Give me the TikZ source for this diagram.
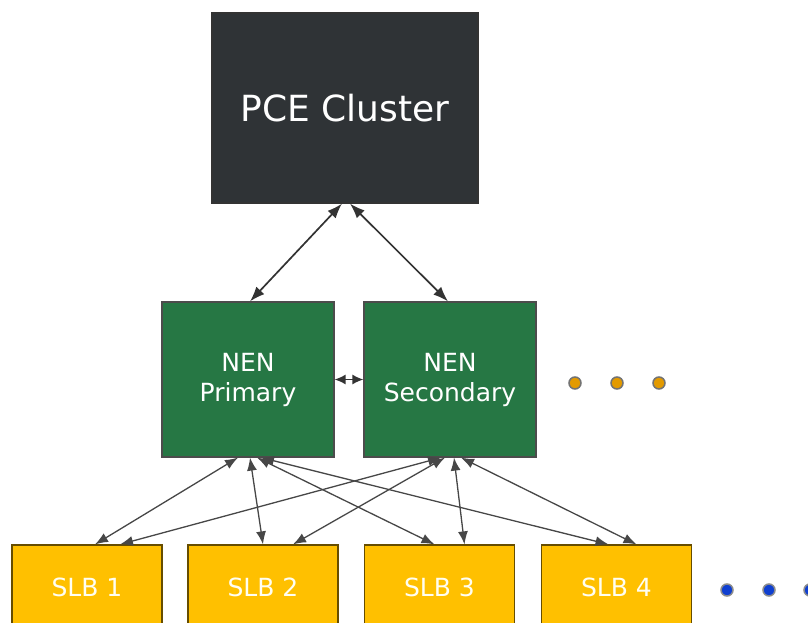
\documentclass[tikz,border=0pt]{standalone}
\usepackage{fontspec}
\setmainfont{DejaVu Sans}
\usetikzlibrary{arrows.meta}
\definecolor{pcefill}{HTML}{2F3336}
\definecolor{nenfill}{HTML}{267744}
\definecolor{slbfill}{HTML}{FFC000}
\definecolor{linec}{HTML}{333333}
\definecolor{orangedot}{HTML}{E39A00}
\definecolor{bluedot}{HTML}{0F3FD0}
\tikzset{
  box/.style={draw=#1, line width=1.2pt, inner sep=0pt, align=center, text=white},
  pcebox/.style={box=black!80, fill=pcefill, minimum width=266pt, minimum height=190pt, font=\fontsize{36}{42}\selectfont},
  nenbox/.style={box=black!70, fill=nenfill, minimum width=172pt, minimum height=155pt, font=\fontsize{25}{30}\selectfont},
  slbbox/.style={box=black!60!slbfill, fill=slbfill, minimum width=150pt, minimum height=84pt, font=\fontsize{25}{30}\selectfont, text=white!95!yellow},
  conn/.style={draw=linec, line width=1.7pt, {Latex[length=15pt,width=11pt]}-{Latex[length=15pt,width=11pt]}},
  lconn/.style={draw=linec!90, line width=1.3pt, {Latex[length=13pt,width=10pt]}-{Latex[length=13pt,width=10pt]}},
  dotorange/.style={circle, fill=orangedot, draw=black!55, line width=1.5pt, inner sep=0pt, minimum size=12pt},
  dotblue/.style={circle, fill=bluedot, draw=black!45, line width=1.5pt, inner sep=0pt, minimum size=12pt},
}
\begin{document}
\begin{tikzpicture}[x=1pt,y=-1pt]
\useasboundingbox (0,0) rectangle (808,623);
\node[pcebox] (pce) at (345,108) {PCE Cluster};
\node[nenbox] (prim) at (248,379.5) {\rule{0pt}{6pt}NEN\\Primary};
\node[nenbox] (sec) at (450,379.5) {\rule{0pt}{6pt}NEN\\Secondary};
\node[slbbox] (s1) at (87,587) {SLB 1};
\node[slbbox] (s2) at (263,587) {SLB 2};
\node[slbbox] (s3) at (439.5,587) {SLB 3};
\node[slbbox] (s4) at (616.5,587) {SLB 4};
% top connectors
\draw[conn] ([xshift=-3pt]pce.south) -- ([xshift=2pt]prim.north);
\draw[conn] ([xshift=5pt]pce.south) -- ([xshift=-2pt]sec.north);
\draw[conn, line width=1.4pt, {Latex[length=11pt,width=10pt]}-{Latex[length=11pt,width=10pt]}] (prim.east) -- (sec.west);
% lower connectors
\draw[lconn] ([xshift=-10pt]prim.south) -- ([xshift=8pt]s1.north);
\draw[lconn] ([xshift=2pt]prim.south) -- ([xshift=0pt]s2.north);
\draw[lconn] ([xshift=9pt]prim.south) -- ([xshift=-5pt]s3.north);
\draw[lconn] ([xshift=13pt]prim.south) -- ([xshift=-8pt]s4.north);
\draw[lconn] ([xshift=-9pt]sec.south) -- ([xshift=33pt]s1.north);
\draw[lconn] ([xshift=-5pt]sec.south) -- ([xshift=30pt]s2.north);
\draw[lconn] ([xshift=4pt]sec.south) -- ([xshift=25pt]s3.north);
\draw[lconn] ([xshift=11pt]sec.south) -- ([xshift=20pt]s4.north);
% dots
\node[dotorange] (o1) at (575,383) {};
\node[dotorange] (o2) at (617,383) {};
\node[dotorange] (o3) at (659,383) {};
\node[dotblue] (b1) at (727,590) {};
\node[dotblue] (b2) at (769,590) {};
\node[dotblue] (b3) at (810,590) {};
\end{tikzpicture}
\end{document}
